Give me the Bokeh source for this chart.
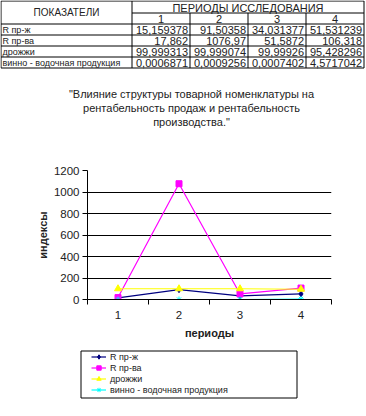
from bokeh.plotting import figure
from bokeh.models import Range1d, FixedTicker, Legend, LegendItem
from bokeh.embed import file_html
from bokeh.resources import INLINE
from bokeh.core.properties import value

# ---------------- data ----------------
periods = [1, 2, 3, 4]
period_labels = ["1", "2", "3", "4"]
series_names = ["R пр-ж", "R пр-ва", "дрожжи", "винно - водочная продукция"]
r_prj = [15.159378, 91.50358, 34.031377, 51.531239]
r_prva = [17.862, 1076.97, 51.5872, 106.318]
drozhzhi = [99.999313, 99.999074, 99.99926, 95.428296]
vino = [0.0006871, 0.0009256, 0.0007402, 4.5717042]
y_ticks = [0, 200, 400, 600, 800, 1000, 1200]

table_head = "ПОКАЗАТЕЛИ"
table_group = "ПЕРИОДЫ ИССЛЕДОВАНИЯ"
title_lines = ['"Влияние структуры товарной номенклатуры на',
               'рентабельность продаж и рентабельность',
               'производства."']
x_label = "периоды"
y_label = "индексы"

FONT = value("Liberation Sans")
W = 366
TXT = "#222222"
all_series = [r_prj, r_prva, drozhzhi, vino]
colors = ["#000080", "#FF00FF", "#FFFF00", "#00FFFF"]
markers = ["diamond", "square", "triangle", "asterisk"]
sizes = [6, 6, 7, 6]


def bare(fig):
    fig.grid.visible = False
    fig.outline_line_color = None
    return fig


# ---------------- header: table + title ----------------
hdr = bare(figure(width=W, height=140, x_range=Range1d(0, W), y_range=Range1d(140, 0),
                  output_backend="svg", toolbar_location=None,
                  x_axis_location=None, y_axis_location=None, min_border=0))

cols = [0.5, 131.5, 189.5, 247.5, 305.5, 363.5]
rows = [0.5, 12.5, 23.5, 34.5, 45.5, 56.5, 67.5]

x0, y0, x1, y1 = [], [], [], []
for r in [rows[0]] + rows[2:]:
    x0.append(cols[0]); x1.append(cols[-1]); y0.append(r); y1.append(r)
x0.append(cols[1]); x1.append(cols[-1]); y0.append(rows[1]); y1.append(rows[1])
for c in [cols[0], cols[1], cols[-1]]:
    x0.append(c); x1.append(c); y0.append(rows[0]); y1.append(rows[-1])
for c in cols[2:-1]:
    x0.append(c); x1.append(c); y0.append(rows[1]); y1.append(rows[-1])
hdr.segment(x0=x0, y0=y0, x1=x1, y1=y1, line_color="black", line_width=1)

txt = dict(text_font=FONT, text_color=TXT, text_baseline="middle")
hdr.text(x=[(cols[0] + cols[1]) / 2], y=[(rows[0] + rows[2]) / 2], text=[table_head],
         text_align="center", text_font_size="10px", **txt)
hdr.text(x=[(cols[1] + cols[-1]) / 2], y=[(rows[0] + rows[1]) / 2 + 0.5], text=[table_group],
         text_align="center", text_font_size="11px", **txt)
hdr.text(x=[(cols[i] + cols[i + 1]) / 2 for i in range(1, 5)],
         y=[(rows[1] + rows[2]) / 2 + 0.5] * 4, text=period_labels,
         text_align="center", text_font_size="11px", **txt)
row_y = [(rows[i] + rows[i + 1]) / 2 + 0.5 for i in range(2, 6)]
hdr.text(x=[cols[0] + 1.5] * 4, y=row_y, text=series_names,
         text_align="left", text_font_size="9px", **txt)
vx, vy, vt = [], [], []
for ri, ser in enumerate(all_series):
    for ci, v in enumerate(ser):
        vx.append(cols[ci + 2] - 2)
        vy.append(row_y[ri])
        vt.append(repr(v).replace(".", ","))
hdr.text(x=vx, y=vy, text=vt, text_align="right", text_font_size="11px", **txt)

hdr.text(x=[191] * 3, y=[93, 107, 121], text=title_lines, text_align="center",
         text_font_size="11px", **txt)

# ---------------- chart ----------------
p = figure(width=W, height=203, x_range=Range1d(0.5, 4.5), y_range=Range1d(0, 1200),
           output_backend="svg", toolbar_location=None,
           min_border_left=87, min_border_right=35, min_border_top=30, min_border_bottom=44)
p.outline_line_color = None
p.xgrid.visible = False
p.ygrid.grid_line_color = "black"
p.ygrid.grid_line_width = 1

p.yaxis.ticker = y_ticks
p.xaxis.ticker = FixedTicker(ticks=periods,
                             minor_ticks=[t - 0.5 for t in periods] + [periods[-1] + 0.5])
p.xaxis.major_label_overrides = {t: l for t, l in zip(periods, period_labels)}
for ax in p.axis:
    ax.axis_line_color = "black"
    ax.major_label_text_font = "Liberation Sans"
    ax.major_label_text_font_size = "11.5px"
    ax.major_label_text_color = TXT
    ax.axis_label_text_font = "Liberation Sans"
    ax.axis_label_text_font_size = "11px"
    ax.axis_label_text_font_style = "bold"
    ax.axis_label_text_color = TXT
p.xaxis.major_tick_out = 0
p.xaxis.major_tick_in = 0
p.xaxis.minor_tick_out = 5
p.xaxis.minor_tick_in = 0
p.xaxis.minor_tick_line_color = "black"
p.xaxis.major_label_standoff = 6
p.xaxis.axis_label = x_label
p.xaxis.axis_label_standoff = 5
p.yaxis.major_tick_out = 5
p.yaxis.major_tick_in = 0
p.yaxis.major_tick_line_color = "black"
p.yaxis.minor_tick_line_color = None
p.yaxis.major_label_standoff = 3
p.yaxis.axis_label = y_label
p.yaxis.axis_label_standoff = 2

for ser, c, m, s in zip(all_series, colors, markers, sizes):
    p.line(periods, ser, line_color=c, line_width=1.2)
    p.scatter(periods, ser, marker=m, size=s, line_color=c, fill_color=c)

# ---------------- legend ----------------
lg = bare(figure(width=W, height=60, x_range=Range1d(0, W), y_range=Range1d(400, 340),
                 output_backend="svg", toolbar_location=None,
                 x_axis_location=None, y_axis_location=None, min_border=0))
lg.quad(left=[80.5], right=[296.5], top=[347.5], bottom=[394.5],
        fill_color=None, line_color="black", line_width=1)
items = []
for name, c, m, s in zip(series_names, colors, markers, sizes):
    ln = lg.line([float("nan")] * 2, [float("nan")] * 2, line_color=c, line_width=1.2)
    sc = lg.scatter([float("nan")], [float("nan")], marker=m, size=5, line_color=c, fill_color=c)
    items.append(LegendItem(label=name, renderers=[ln, sc]))
legend = Legend(items=items, location=(91, 8), orientation="vertical",
                label_text_font="Liberation Sans", label_text_font_size="9px",
                label_text_color=TXT, glyph_height=11, glyph_width=15,
                label_height=11, spacing=0, padding=0, margin=0,
                label_standoff=4, border_line_color=None,
                background_fill_alpha=0)
lg.add_layout(legend)

open("out.html", "w").write(file_html([hdr, p, lg], INLINE))
